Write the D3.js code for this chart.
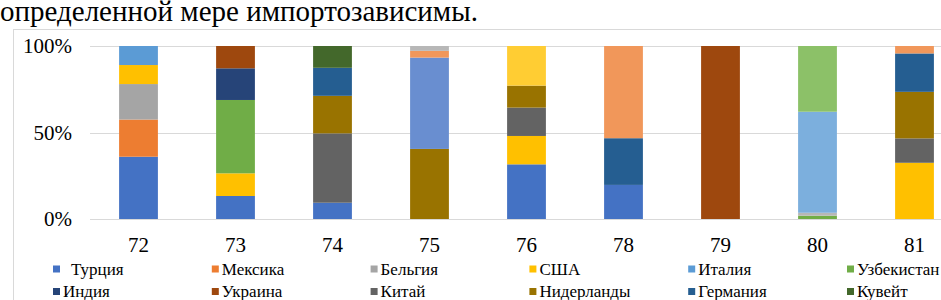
<!DOCTYPE html>
<html>
<head>
<meta charset="utf-8">
<script src="https://cdn.jsdelivr.net/npm/d3@7"></script>
<style>
  body { margin: 0; background: #fff; }
  text { font-family: "Liberation Serif", "Times New Roman", serif; }
</style>
</head>
<body>
<div id="chart"></div>
<script>
// categories on the x axis
const categories = ["72", "73", "74", "75", "76", "78", "79", "80", "81"];

// series in stacking order (bottom to top); the last six are lighter repeats whose legend row is cut off
const seriesNames = ["Турция", "Мексика", "Бельгия", "США", "Италия", "Узбекистан",
  "Индия", "Украина", "Китай", "Нидерланды", "Германия", "Кувейт",
  "s13", "s14", "s15", "s16", "s17", "s18"];
const seriesColors = ["#4472C4", "#ED7D31", "#A5A5A5", "#FFC000", "#5B9BD5", "#70AD47",
  "#264478", "#9E480E", "#636363", "#997300", "#255E91", "#43682B",
  "#698ED0", "#F1975A", "#B7B7B7", "#FFCD33", "#7CAFDD", "#8CC168"];

// shares (%) per series, one value per category
const turkey      = [36, 13.3, 9.4, 0, 31.6, 19.7, 0, 0, 0];
const mexico      = [21.5, 0, 0, 0, 0, 0, 0, 0, 0];
const belgium     = [20.5, 0, 0, 0, 0, 0, 0, 0, 0];
const usa         = [11, 13.1, 0, 0, 16.4, 0, 0, 0, 32.5];
const italy       = [11, 0, 0, 0, 0, 0, 0, 0, 0];
const uzbekistan  = [0, 42.4, 0, 0, 0, 0, 0, 1.9, 0];
const india       = [0, 18.3, 0, 0, 0, 0, 0, 0, 0];
const ukraine     = [0, 12.9, 0, 0, 0, 0, 100, 0, 0];
const china       = [0, 0, 40.1, 0, 16.4, 0, 0, 0, 14.1];
const netherlands = [0, 0, 21.7, 40.5, 12.7, 0, 0, 0, 26.9];
const germany     = [0, 0, 16.2, 0, 0, 27, 0, 0, 22.2];
const kuwait      = [0, 0, 12.6, 0, 0, 0, 0, 0, 0];
const s13         = [0, 0, 0, 52.8, 0, 0, 0, 0, 0];
const s14         = [0, 0, 0, 3.9, 0, 53.3, 0, 0, 4.3];
const s15         = [0, 0, 0, 2.8, 0, 0, 0, 1.7, 0];
const s16         = [0, 0, 0, 0, 22.9, 0, 0, 0, 0];
const s17         = [0, 0, 0, 0, 0, 0, 0, 58.4, 0];
const s18         = [0, 0, 0, 0, 0, 0, 0, 38, 0];

const seriesValues = [turkey, mexico, belgium, usa, italy, uzbekistan, india, ukraine,
  china, netherlands, germany, kuwait, s13, s14, s15, s16, s17, s18];

const yTicks = [0, 0.5, 1];
const legendCount = 12; // only the first two rows fit inside the picture

const width = 941, height = 300;

const svg = d3.select("#chart")
  .append("svg")
  .attr("width", width)
  .attr("height", height);

// text line above the chart
svg.append("text")
  .attr("x", 0)
  .attr("y", 21)
  .style("font-size", "29px")
  .attr("fill", "#000")
  .text("определенной мере импортозависимы.");

// chart frame
svg.append("rect")
  .attr("x", 13.5)
  .attr("y", 29.5)
  .attr("width", 960)
  .attr("height", 300)
  .attr("fill", "#fff")
  .attr("stroke", "#D9D9D9");

// build table: one row per category, shares normalised to 100%
const table = categories.map((c, i) => {
  const row = { cat: c };
  let total = 0;
  seriesNames.forEach((n, j) => { total += seriesValues[j][i]; });
  seriesNames.forEach((n, j) => { row[n] = seriesValues[j][i] / total; });
  return row;
});

const stack = d3.stack().keys(seriesNames);
const layers = stack(table);

const x = d3.scaleBand()
  .domain(categories)
  .range([90, 963])
  .paddingInner(0.6)
  .paddingOuter(0.3);

const y = d3.scaleLinear()
  .domain([0, 1])
  .range([219, 46]);

const color = d3.scaleOrdinal().domain(seriesNames).range(seriesColors);

// gridlines
svg.append("g")
  .selectAll("line")
  .data(yTicks)
  .enter().append("line")
  .attr("x1", 90)
  .attr("x2", width)
  .attr("y1", d => Math.round(y(d)) + 0.5)
  .attr("y2", d => Math.round(y(d)) + 0.5)
  .attr("stroke", "#D9D9D9")
  .attr("stroke-width", 1);

// y tick labels
svg.append("g")
  .selectAll("text")
  .data(yTicks)
  .enter().append("text")
  .attr("x", 72)
  .attr("y", d => y(d))
  .attr("dy", "0.35em")
  .attr("text-anchor", "end")
  .style("font-size", "21px")
  .attr("fill", "#000")
  .text(d3.format(".0%"));

// bars
svg.append("g")
  .selectAll("g")
  .data(layers)
  .enter().append("g")
  .attr("fill", d => color(d.key))
  .selectAll("rect")
  .data(d => d)
  .enter().append("rect")
  .attr("x", d => x(d.data.cat))
  .attr("y", d => y(d[1]))
  .attr("width", x.bandwidth())
  .attr("height", d => y(d[0]) - y(d[1]));

// x labels
svg.append("g")
  .selectAll("text")
  .data(categories)
  .enter().append("text")
  .attr("x", d => x(d) + x.bandwidth() / 2)
  .attr("y", 245)
  .attr("dy", "0.35em")
  .attr("text-anchor", "middle")
  .style("font-size", "21px")
  .attr("fill", "#000")
  .text(d => d);

// legend, 6 columns
const colW = 158.8, legX = 53, legY = 269, rowH = 22.5;
const legend = svg.append("g")
  .selectAll("g")
  .data(seriesNames.slice(0, legendCount))
  .enter().append("g")
  .attr("transform", (d, i) => `translate(${legX + (i % 6) * colW}, ${legY + Math.floor(i / 6) * rowH})`);

legend.append("rect")
  .attr("x", 0)
  .attr("y", -3.5)
  .attr("width", 7)
  .attr("height", 7)
  .attr("fill", d => color(d));

legend.append("text")
  .attr("x", d => d === "Турция" ? 18 : 10)
  .attr("y", 0)
  .attr("dy", "0.35em")
  .style("font-size", "17px")
  .attr("fill", "#000")
  .text(d => d);
</script>
</body>
</html>
